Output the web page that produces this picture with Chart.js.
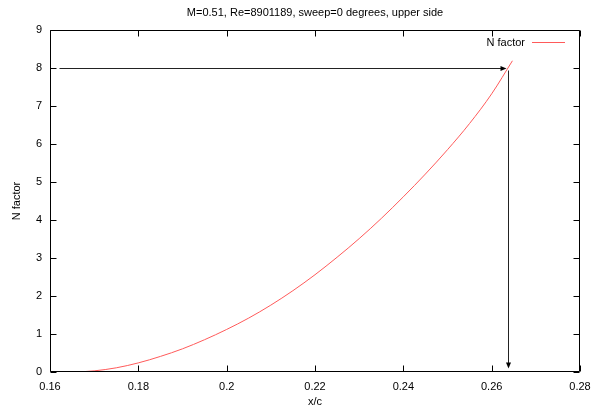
<!DOCTYPE html>
<html>
<head>
    <title>N factor</title>
    <script src="https://cdn.jsdelivr.net/npm/chart.js@4.4.0/dist/chart.umd.min.js"></script>
    <style>
        body {
            margin: 0;
            background-color: #fff;
        }
    </style>
</head>
<body>
    <canvas id="nChart" width="594" height="412"></canvas>

    <script>
    const chartTitle = 'M=0.51, Re=8901189, sweep=0 degrees, upper side';
    const seriesLabel = 'N factor';
    const lineColor = '#ff5a5a';

    // x/c positions and N factor
    const xc = [0.1661, 0.170, 0.175, 0.18, 0.185, 0.19, 0.195, 0.2, 0.205, 0.21, 0.215,
                0.22, 0.225, 0.23, 0.235, 0.24, 0.245, 0.25, 0.255, 0.26, 0.2647];
    const nFactor = [0, 0.03, 0.11, 0.24, 0.41, 0.61, 0.85, 1.12, 1.42, 1.76, 2.14,
                     2.56, 3.02, 3.51, 4.04, 4.61, 5.21, 5.85, 6.54, 7.32, 8.19];

    const xTicks = [0.16, 0.18, 0.2, 0.22, 0.24, 0.26, 0.28];
    const yTicks = [0, 1, 2, 3, 4, 5, 6, 7, 8, 9];

    // arrows: [x, y] start and end, in data units
    const arrowStarts = [[0.162, 8], [0.2638, 7.95]];
    const arrowEnds = [[0.2632, 8], [0.2638, 0.1]];

    const FONT = '"Liberation Sans", Arial, sans-serif';

    // frame, inside ticks (all four sides), arrows, legend and title, gnuplot style
    const gnuplotBits = {
        id: 'gnuplotBits',
        afterDatasetsDraw(chart) {
            const ctx = chart.ctx;
            const a = chart.chartArea;
            const xs = chart.scales.x, ys = chart.scales.y;
            const px = v => Math.round(xs.getPixelForValue(v)) + 0.5;
            const py = v => Math.round(ys.getPixelForValue(v)) + 0.5;
            const L = Math.round(a.left) + 0.5, R = Math.round(a.right) - 0.5;
            const T = Math.round(a.top) + 0.5, B = Math.round(a.bottom) - 0.5;
            ctx.save();
            ctx.strokeStyle = '#000';
            ctx.lineWidth = 1;
            ctx.beginPath();
            ctx.rect(L, T, R - L, B - T);
            xTicks.forEach(v => {
                const x = px(v);
                ctx.moveTo(x, B); ctx.lineTo(x, B - 6);
                ctx.moveTo(x, T); ctx.lineTo(x, T + 6);
            });
            yTicks.forEach(v => {
                const y = py(v);
                ctx.moveTo(L, y); ctx.lineTo(L + 6, y);
                ctx.moveTo(R, y); ctx.lineTo(R - 6, y);
            });
            ctx.stroke();

            // arrows
            ctx.fillStyle = '#000';
            ctx.strokeStyle = '#222';
            arrowStarts.forEach((s, i) => {
                const e = arrowEnds[i];
                const x1 = px(s[0]), y1 = py(s[1]), x2 = px(e[0]), y2 = py(e[1]);
                const ang = Math.atan2(y2 - y1, x2 - x1);
                ctx.beginPath();
                ctx.moveTo(x1, y1);
                ctx.lineTo(x2 - 5 * Math.cos(ang), y2 - 5 * Math.sin(ang));
                ctx.stroke();
                ctx.beginPath();
                ctx.moveTo(x2, y2);
                ctx.lineTo(x2 - 6 * Math.cos(ang) + 2.5 * Math.sin(ang), y2 - 6 * Math.sin(ang) - 2.5 * Math.cos(ang));
                ctx.lineTo(x2 - 6 * Math.cos(ang) - 2.5 * Math.sin(ang), y2 - 6 * Math.sin(ang) + 2.5 * Math.cos(ang));
                ctx.closePath();
                ctx.fill();
            });

            // legend, key text then line sample
            const ly = Math.round(a.top + 12) + 0.5;
            ctx.font = '11px ' + FONT;
            ctx.textAlign = 'right';
            ctx.textBaseline = 'middle';
            ctx.fillStyle = '#000';
            ctx.fillText(chart.data.datasets[0].label, a.right - 55, ly);
            ctx.strokeStyle = lineColor;
            ctx.beginPath();
            ctx.moveTo(a.right - 48, ly);
            ctx.lineTo(a.right - 15, ly);
            ctx.stroke();

            // title, centred over the plot area
            ctx.textAlign = 'center';
            ctx.fillText(chartTitle, (a.left + a.right) / 2, 13);
            ctx.restore();
        }
    };

    const config = {
        type: 'line',
        data: {
            datasets: [{
                label: seriesLabel,
                data: xc.map((x, i) => ({ x: x, y: nFactor[i] })),
                borderColor: lineColor,
                borderWidth: 1,
                pointRadius: 0,
                cubicInterpolationMode: 'monotone',
                fill: false
            }]
        },
        options: {
            responsive: false,
            animation: false,
            layout: {
                padding: { top: 30, right: 14, left: 0, bottom: 0 }
            },
            plugins: {
                legend: { display: false },
                title: { display: false },
                tooltip: { enabled: false }
            },
            scales: {
                x: {
                    type: 'linear',
                    min: 0.16,
                    max: 0.28,
                    grid: { display: false },
                    border: { display: false },
                    afterBuildTicks: s => { s.ticks = xTicks.map(v => ({ value: v })); },
                    afterFit: s => { s.height = 40; },
                    ticks: {
                        padding: 0,
                        maxRotation: 0,
                        color: '#000',
                        font: { family: FONT, size: 11 },
                        callback: v => String(+v.toFixed(2))
                    },
                    title: {
                        display: true,
                        text: 'x/c',
                        color: '#000',
                        font: { family: FONT, size: 11 },
                        padding: { top: 0, bottom: 3 }
                    }
                },
                y: {
                    min: 0,
                    max: 9,
                    grid: { display: false },
                    border: { display: false },
                    afterBuildTicks: s => { s.ticks = yTicks.map(v => ({ value: v })); },
                    afterFit: s => { s.width = 50; },
                    ticks: {
                        padding: 0,
                        color: '#000',
                        font: { family: FONT, size: 11 }
                    },
                    title: {
                        display: true,
                        text: 'N factor',
                        color: '#000',
                        font: { family: FONT, size: 11 },
                        padding: { top: 10, bottom: 0 }
                    }
                }
            }
        },
        plugins: [gnuplotBits]
    };

    new Chart(document.getElementById('nChart'), config);
    </script>
</body>
</html>
